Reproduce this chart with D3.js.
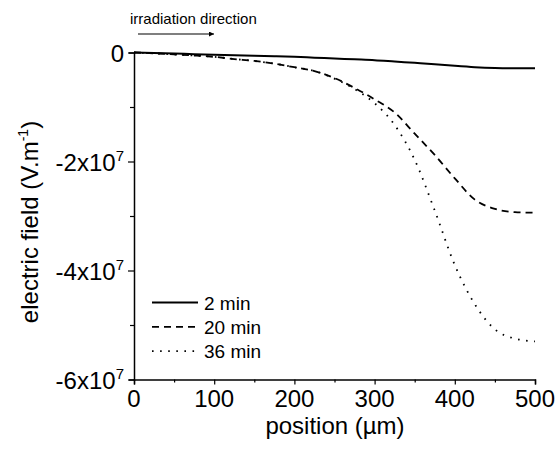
<!DOCTYPE html>
<html><head><meta charset="utf-8">
<script src="https://cdn.jsdelivr.net/npm/d3@7"></script>
<style>body{margin:0;background:#fff}svg{display:block}text{font-family:Arial,"Liberation Sans",sans-serif;fill:#000}</style>
</head><body>
<svg id="c" width="557" height="449"></svg>
<script>
const positions = [0,25,50,75,100,125,150,175,200,225,250,275,300,325,350,375,400,425,450,475,500];
const field2min  = [0,-0.01,-0.02,-0.03,-0.04,-0.05,-0.06,-0.07,-0.08,-0.095,-0.11,-0.125,-0.14,-0.165,-0.19,-0.215,-0.245,-0.27,-0.285,-0.29,-0.29];
const field20min = [0,-0.015,-0.035,-0.055,-0.08,-0.12,-0.155,-0.205,-0.27,-0.34,-0.47,-0.65,-0.86,-1.1,-1.49,-1.88,-2.31,-2.7,-2.87,-2.93,-2.94];
const field36min = [0,-0.015,-0.035,-0.055,-0.08,-0.12,-0.155,-0.205,-0.27,-0.34,-0.48,-0.67,-0.93,-1.33,-1.97,-2.9,-3.9,-4.62,-5.08,-5.25,-5.3];
const seriesNames = ["2 min","20 min","36 min"];
const xTicks = [0,100,200,300,400,500];
const yTicks = [0,-2,-4,-6]; // x10^7
const exponent = 7;

const svg = d3.select("#c");
const x = d3.scaleLinear().domain([0,500]).range([134,535]);
const y = d3.scaleLinear().domain([0,-6]).range([52.5,379.5]);

const styles = [
  {w:2, dash:null},
  {w:1.8, dash:"7,5"},
  {w:1.8, dash:"1.6,6.5"}
];
const all = [field2min, field20min, field36min];

// axes
const xAxis = d3.axisBottom(x).tickValues(d3.range(0,501,50)).tickSize(5).tickFormat("");
const gx = svg.append("g").attr("transform",`translate(0,${y(-6)})`).call(xAxis);
gx.selectAll(".tick line").attr("y2", d => d%100===0 ? 5 : 3);
const yAxis = d3.axisLeft(y).tickValues(d3.range(0,-6.01,-1)).tickSize(5).tickFormat("");
const gy = svg.append("g").attr("transform",`translate(${x(0)},0)`).call(yAxis);
gy.selectAll(".tick line").attr("x2", d => Math.round(d)%2===0 ? -6 : -4);
svg.selectAll(".domain").attr("stroke","#000").attr("stroke-width",1.5);
svg.selectAll(".tick line").attr("stroke","#000").attr("stroke-width",1.2);

// tick labels
svg.append("g").selectAll("text").data(xTicks).join("text")
  .attr("x", d=>x(d)).attr("y", 407).attr("text-anchor","middle")
  .style("font-size","24px").text(d=>d);

yTicks.forEach(v=>{
  const t = svg.append("text").attr("x",124).attr("y",y(v)+9.5).attr("text-anchor","end").style("font-size","24px");
  if(v===0){ t.text("0"); }
  else {
    t.append("tspan").text(`${v}x10`);
    t.append("tspan").attr("dy",-10).style("font-size","15px").text(exponent);
  }
});

// axis titles
svg.append("text").attr("x",335).attr("y",434).attr("text-anchor","middle").style("font-size","24px").text("position (µm)");
const yt = svg.append("text").attr("transform","translate(38,222) rotate(-90)").attr("text-anchor","middle").style("font-size","24px");
yt.append("tspan").text("electric field (V.m");
yt.append("tspan").attr("dy",-10).style("font-size","14px").text("-1");
yt.append("tspan").attr("dy",10).text(")");

// lines
const line = d3.line().x((d,i)=>x(positions[i])).y(d=>y(d)).curve(d3.curveMonotoneX);
all.forEach((s,i)=>{
  svg.append("path").datum(s).attr("d",line).attr("fill","none").attr("stroke","#000")
    .attr("stroke-width",styles[i].w).attr("stroke-dasharray",styles[i].dash);
});

// legend
seriesNames.forEach((n,i)=>{
  const yy = 302.5 + i*24.3;
  svg.append("line").attr("x1",152).attr("x2",198).attr("y1",yy).attr("y2",yy)
    .attr("stroke","#000").attr("stroke-width",styles[i].w).attr("stroke-dasharray",styles[i].dash);
  svg.append("text").attr("x",204).attr("y",yy+7).style("font-size","19px").text(n);
});

// annotation
svg.append("text").attr("x",130).attr("y",23.5).style("font-size","15px").text("irradiation direction");
svg.append("defs").append("marker").attr("id","ah").attr("viewBox","0 0 10 10").attr("refX",10).attr("refY",5)
  .attr("markerWidth",6).attr("markerHeight",5).attr("markerUnits","userSpaceOnUse").attr("orient","auto")
  .append("path").attr("d","M0,0L10,5L0,10Z").attr("fill","#000");
svg.append("line").attr("x1",138).attr("x2",214).attr("y1",34).attr("y2",34).attr("stroke","#000").attr("stroke-width",1.2).attr("marker-end","url(#ah)");
</script>
</body></html>
